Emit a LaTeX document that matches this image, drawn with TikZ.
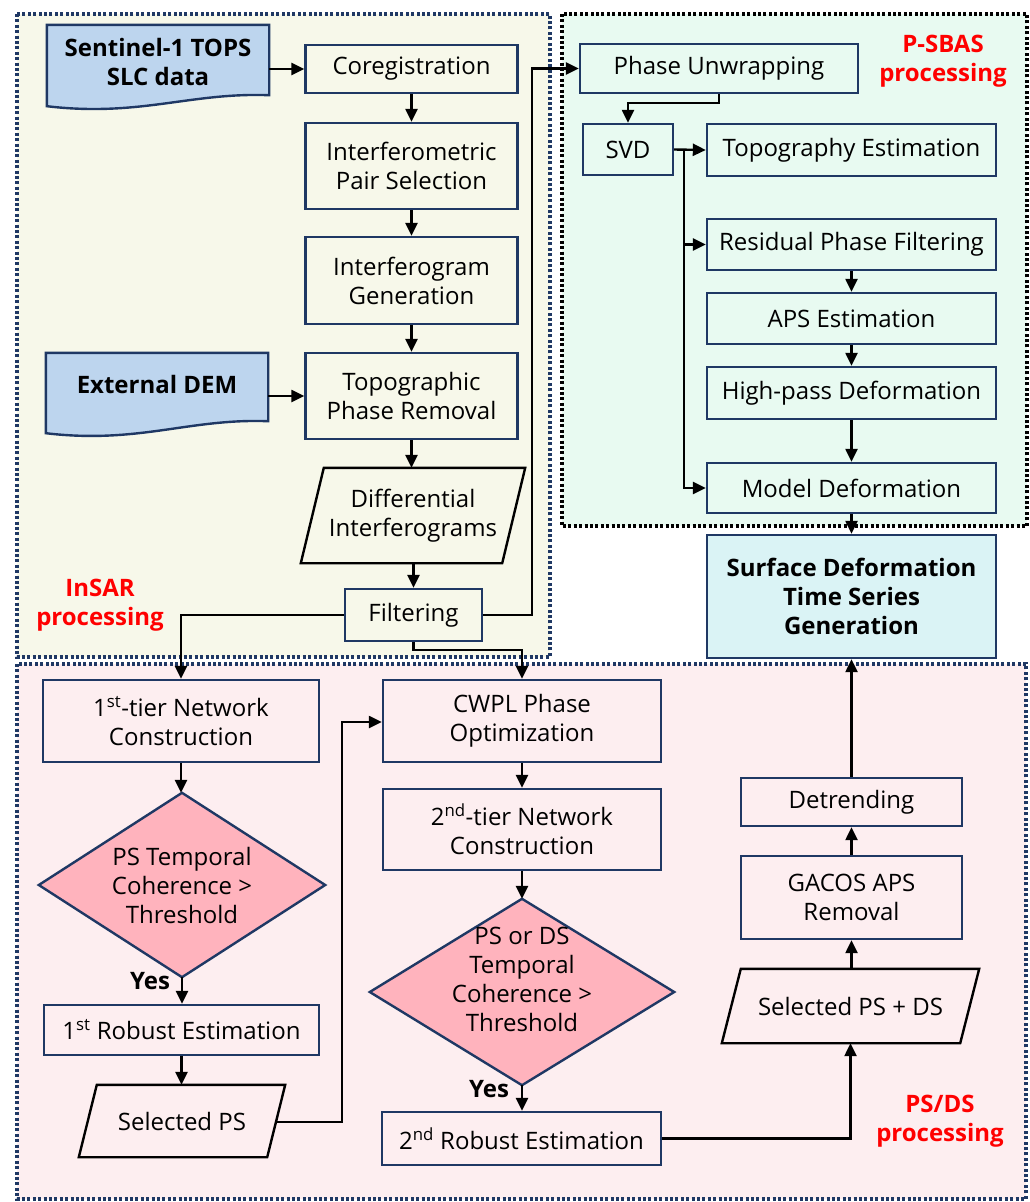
\documentclass[tikz,border=0pt]{standalone}
\usepackage{fontspec}
\setmainfont{Open Sans}
\usetikzlibrary{arrows.meta,calc}
\definecolor{navy}{HTML}{1F3864}
\definecolor{insarbg}{HTML}{F7F8EA}
\definecolor{sbasbg}{HTML}{E8FAF1}
\definecolor{psdsbg}{HTML}{FDEEF0}
\definecolor{docblue}{HTML}{BDD5EE}
\definecolor{diapink}{HTML}{FFB3BD}
\definecolor{surfbg}{HTML}{DAF3F5}
\definecolor{lblred}{HTML}{FF0000}
\newcommand\txtfont{\fontsize{24}{29}\selectfont}
\newcommand\boldfont{\fontsize{24}{29}\selectfont\bfseries}
\tikzset{
  region/.style={line width=3.4pt,dash pattern=on 3pt off 2.4pt},
  box/.style={draw=navy,line width=2.4pt,rectangle,inner sep=0pt,align=center,font=\txtfont},
  shell/.style={rectangle,inner sep=0pt,align=center,font=\txtfont},
  docshape/.style={draw=navy,line width=2.4pt,fill=docblue},
  diashape/.style={draw=navy,line width=2.4pt,fill=diapink},
  para/.style={draw=black,line width=2.4pt},
  arr/.style={-{Triangle[length=13pt,width=12pt]},line width=2.4pt,black},
  lbl/.style={text=lblred,font=\boldfont,align=center,inner sep=0pt},
  yeslbl/.style={font=\boldfont,inner sep=0pt}
}
\begin{document}
\begin{tikzpicture}[x=1pt,y=-1pt]
\useasboundingbox (0,0) rectangle (1030,1202);
% ---- regions
\draw[region,draw=navy,fill=insarbg] (17,14) rectangle (550,657);
\draw[region,draw=black,fill=sbasbg] (562,14) rectangle (1027,526);
\draw[region,draw=navy,fill=psdsbg] (17,664) rectangle (1026,1199);
\node[lbl] (lblinsar) at (100,605) {InSAR\\processing};
\node[lbl] (lblsbas) at (943,61) {P-SBAS\\processing};
\node[lbl] (lblpsds) at (940,1121) {PS/DS\\processing};

% ---- InSAR column
\node[shell,minimum width=222pt,minimum height=70pt] (sent) at (158,60) {};
\draw[docshape] (sent.south east) -- (sent.north east) -- (sent.north west) -- ($(sent.south west)+(0,11)$)
  .. controls +(93,11) and +(-79,-3) .. (sent.south east) -- cycle;
\node[shell,font=\boldfont] (sentt) at (158,62) {Sentinel-1 TOPS\\SLC data};

\node[shell,minimum width=222pt,minimum height=68pt] (dem) at (157,387) {};
\draw[docshape] (dem.south east) -- (dem.north east) -- (dem.north west) -- ($(dem.south west)+(0,12)$)
  .. controls +(93,11) and +(-79,-3) .. (dem.south east) -- cycle;
\node[shell,font=\boldfont] (demt) at (157,384) {External DEM};

\node[box,minimum width=212pt,minimum height=48pt] (coreg) at (411.5,69) {Coregistration};
\node[box,minimum width=212pt,minimum height=86pt] (pairsel) at (411.5,166) {Interferometric\\Pair Selection};
\node[box,minimum width=212pt,minimum height=87pt] (ifggen) at (411.5,280.5) {Interferogram\\Generation};
\node[box,minimum width=212pt,minimum height=86pt] (topo) at (411.5,396) {Topographic\\Phase Removal};
\node[shell,minimum width=224pt,minimum height=95pt] (diff) at (413,515.5) {Differential\\Interferograms};
\draw[para] ($(diff.north west)+(23,0)$) -- (diff.north east) -- ($(diff.south east)+(-23,0)$) -- (diff.south west) -- cycle;
\node[box,minimum width=137pt,minimum height=52pt] (filt) at (413.5,615) {Filtering};

% ---- P-SBAS
\node[box,minimum width=278pt,minimum height=49pt] (pu) at (719,68.5) {Phase Unwrapping};
\node[box,minimum width=90pt,minimum height=51pt] (svd) at (628,149.5) {SVD};
\node[box,minimum width=289pt,minimum height=52pt] (topest) at (851.5,150) {Topography Estimation};
\node[box,minimum width=289pt,minimum height=51pt] (resid) at (851.5,244.5) {Residual Phase Filtering};
\node[box,minimum width=289pt,minimum height=51pt] (aps) at (851.5,318.5) {APS Estimation};
\node[box,minimum width=289pt,minimum height=52pt] (hp) at (851.5,393) {High-pass Deformation};
\node[box,minimum width=289pt,minimum height=50pt] (model) at (851.5,488) {Model Deformation};
\node[box,fill=surfbg,font=\boldfont,minimum width=289pt,minimum height=123pt] (surf) at (851.5,596.5) {Surface Deformation\\Time Series\\Generation};

% ---- PS/DS
\node[box,minimum width=276pt,minimum height=82pt] (tier1) at (181,721) {1\textsuperscript{st}-tier Network\\Construction};
\node[shell,minimum width=286pt,minimum height=184pt] (dia1) at (182,885) {};
\draw[diashape] (dia1.north) -- (dia1.east) -- (dia1.south) -- (dia1.west) -- cycle;
\node[shell] (dia1t) at (182,885) {PS Temporal\\Coherence >\\Threshold};
\node[yeslbl] (yes1) at (150,981) {Yes};
\node[box,minimum width=275pt,minimum height=50pt] (rob1) at (181.5,1030) {1\textsuperscript{st} Robust Estimation};
\node[shell,minimum width=206pt,minimum height=72pt] (selps) at (182,1121) {Selected PS};
\draw[para] ($(selps.north west)+(18,0)$) -- (selps.north east) -- ($(selps.south east)+(-18,0)$) -- (selps.south west) -- cycle;

\node[box,minimum width=278pt,minimum height=82pt] (cwpl) at (522,721) {CWPL Phase\\Optimization};
\node[box,minimum width=278pt,minimum height=81pt] (tier2) at (522,829.5) {2\textsuperscript{nd}-tier Network\\Construction};
\node[shell,minimum width=304pt,minimum height=186pt] (dia2) at (522,992) {};
\draw[diashape] (dia2.north) -- (dia2.east) -- (dia2.south) -- (dia2.west) -- cycle;
\node[shell] (dia2t) at (522,979) {PS or DS\\Temporal\\Coherence >\\Threshold};
\node[yeslbl] (yes2) at (489,1089) {Yes};
\node[box,minimum width=279pt,minimum height=53pt] (rob2) at (521.5,1138.5) {2\textsuperscript{nd} Robust Estimation};

\node[shell,minimum width=257pt,minimum height=74pt] (selpsds) at (850.5,1006) {Selected PS + DS};
\draw[para] ($(selpsds.north west)+(19,0)$) -- (selpsds.north east) -- ($(selpsds.south east)+(-19,0)$) -- (selpsds.south west) -- cycle;
\node[box,minimum width=221pt,minimum height=83pt] (gacos) at (851.5,897.5) {GACOS APS\\Removal};
\node[box,minimum width=221pt,minimum height=48pt] (detr) at (851.5,802) {Detrending};

% ---- connectors
\draw[arr] (sent.east |- coreg.west) -- (coreg.west);
\draw[arr] (coreg.south) -- (pairsel.north);
\draw[arr] (pairsel.south) -- (ifggen.north);
\draw[arr] (ifggen.south) -- (topo.north);
\draw[arr] (dem.east |- topo.west) -- (topo.west);
\draw[arr] (topo.south) -- (topo.south |- diff.north);
\draw[arr] (filt.north |- diff.south) -- (filt.north);
\draw[arr] (filt.west) -| (tier1.north);
\draw[arr] (filt.east) -- ++(49,0) |- (pu.west);
\draw[arr] (filt.south) -- ++(0,8) -| (cwpl.north);

\draw[arr] (pu.south) -- ++(0,9) -| (svd.north);
\draw[arr] (svd.east) -- (topest.west);
\coordinate (br) at ($(svd.east)+(10,0)$);
\draw[arr] (br) |- (resid.west);
\draw[arr] (br) |- (model.west);
\draw[arr] (resid.south) -- (aps.north);
\draw[arr] (aps.south) -- (hp.north);
\draw[arr] (hp.south) -- (model.north);
\draw[arr] (model.south) -- (surf.north);

\draw[arr] (tier1.south) -- (tier1.south |- dia1.north);
\draw[arr] (dia1.south) -- (dia1.south |- rob1.north);
\draw[arr] (rob1.south) -- (rob1.south |- selps.north);
\coordinate (selpsr) at ($(selps.east)+(-9,1)$);
\draw[arr] (selpsr) -- ++(66,0) |- ($(cwpl.west)+(0,1)$);
\draw[arr] (cwpl.south) -- (tier2.north);
\draw[arr] (tier2.south) -- (dia2.north);
\draw[arr] (dia2.south) -- (dia2.south |- rob2.north);
\draw[arr] (rob2.east) -| (selpsds.south);
\draw[arr] (gacos.south |- selpsds.north) -- (gacos.south);
\draw[arr] (gacos.north) -- (detr.south);
\draw[arr] (detr.north) -- (surf.south);
\end{tikzpicture}
\end{document}
